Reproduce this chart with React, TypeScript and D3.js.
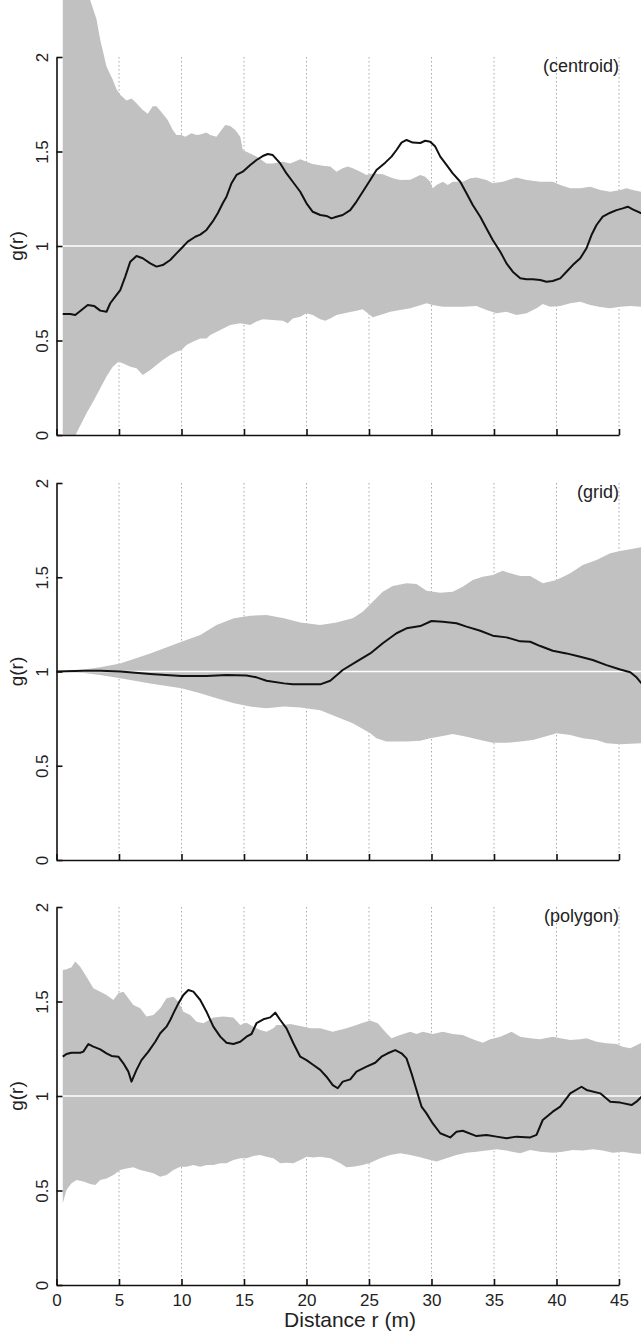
import React, { useRef, useEffect } from 'react';
import * as d3 from 'd3';

// [r (m), g(r)]
const centroidUpper = [
  [0.5, 2.9], [1.5, 2.6], [2.2, 2.42], [2.7, 2.3], [3.2, 2.2], [3.5, 2.09], [4.0, 1.95], [4.5, 1.88],
  [4.8, 1.83], [5.1, 1.8], [5.6, 1.77], [6.0, 1.78], [6.4, 1.755], [6.9, 1.72], [7.3, 1.7], [7.7, 1.74],
  [8.0, 1.74], [8.5, 1.7], [8.9, 1.667], [9.3, 1.614], [9.6, 1.587], [10.0, 1.587], [10.3, 1.578],
  [10.8, 1.596], [11.2, 1.587], [11.5, 1.59], [12.0, 1.6], [12.3, 1.587], [12.8, 1.578], [13.2, 1.614],
  [13.5, 1.64], [13.9, 1.635], [14.3, 1.614], [14.7, 1.578], [14.8, 1.543], [14.9, 1.508], [15.5, 1.49],
  [16.0, 1.473], [16.8, 1.437], [17.3, 1.437], [18.1, 1.446], [18.7, 1.437], [19.5, 1.459], [20.0, 1.446],
  [20.5, 1.434], [21.3, 1.425], [21.9, 1.42], [22.4, 1.393], [22.9, 1.411], [23.3, 1.42], [23.7, 1.411],
  [24.3, 1.393], [24.8, 1.376], [25.3, 1.384], [26.1, 1.38], [26.9, 1.358], [27.5, 1.349], [28.3, 1.35],
  [29.1, 1.376], [29.5, 1.367], [29.9, 1.34], [30.1, 1.305], [30.4, 1.323], [30.9, 1.34], [31.3, 1.323],
  [31.7, 1.34], [32.5, 1.34], [33.1, 1.358], [33.6, 1.363], [34.4, 1.349], [34.9, 1.332], [35.7, 1.34],
  [36.8, 1.363], [37.6, 1.349], [38.7, 1.34], [39.7, 1.34], [40.3, 1.323], [41.1, 1.305], [41.9, 1.305],
  [42.7, 1.314], [43.5, 1.296], [44.3, 1.287], [45.1, 1.296], [45.6, 1.305], [46.1, 1.296], [46.8, 1.287],
];
const centroidLower = [
  [0.5, -0.3], [1.0, -0.15], [1.6, 0.01], [2.4, 0.115], [3.0, 0.185], [3.5, 0.247], [4.0, 0.309],
  [4.5, 0.361], [4.95, 0.388], [5.3, 0.379], [5.9, 0.361], [6.4, 0.353], [6.9, 0.317], [7.5, 0.344],
  [8.0, 0.37], [8.5, 0.397], [9.1, 0.423], [9.6, 0.441], [10.0, 0.45], [10.4, 0.476], [10.9, 0.494],
  [11.5, 0.511], [12.0, 0.511], [12.3, 0.529], [13.1, 0.556], [13.9, 0.582], [14.7, 0.591], [15.5, 0.582],
  [16.0, 0.6], [16.5, 0.612], [17.3, 0.608], [18.1, 0.604], [18.5, 0.591], [18.9, 0.617], [19.5, 0.626],
  [20.0, 0.644], [20.5, 0.635], [21.1, 0.612], [21.5, 0.604], [21.9, 0.617], [22.4, 0.635], [23.2, 0.647],
  [24.0, 0.658], [24.5, 0.665], [24.9, 0.644], [25.3, 0.623], [25.9, 0.635], [26.7, 0.652], [27.5, 0.661],
  [28.3, 0.67], [29.1, 0.686], [29.6, 0.697], [30.1, 0.688], [30.9, 0.679], [31.7, 0.679], [32.5, 0.679],
  [33.6, 0.683], [34.4, 0.661], [35.2, 0.644], [36.0, 0.652], [36.8, 0.635], [37.6, 0.644], [38.4, 0.67],
  [38.9, 0.693], [39.5, 0.679], [40.3, 0.683], [41.1, 0.697], [41.9, 0.705], [42.7, 0.688], [43.5, 0.677],
  [44.3, 0.67], [45.1, 0.679], [45.9, 0.683], [46.8, 0.679],
];
const centroidObs = [
  [0.5, 0.64], [1.1, 0.64], [1.5, 0.635], [2.0, 0.661], [2.5, 0.688], [3.0, 0.683], [3.5, 0.658],
  [4.0, 0.652], [4.3, 0.697], [4.7, 0.732], [5.1, 0.767], [5.5, 0.838], [5.9, 0.917], [6.4, 0.947],
  [6.9, 0.935], [7.5, 0.908], [8.0, 0.891], [8.5, 0.899], [9.1, 0.926], [9.6, 0.961], [10.0, 0.988],
  [10.5, 1.023], [11.1, 1.049], [11.5, 1.06], [12.0, 1.085], [12.5, 1.13], [12.9, 1.173], [13.3, 1.226],
  [13.6, 1.261], [14.0, 1.332], [14.4, 1.376], [14.9, 1.393], [15.5, 1.429], [16.0, 1.455], [16.5, 1.476],
  [16.9, 1.487], [17.3, 1.481], [17.9, 1.437], [18.4, 1.384], [18.9, 1.34], [19.5, 1.287], [20.0, 1.226],
  [20.5, 1.181], [21.1, 1.164], [21.6, 1.159], [22.0, 1.146], [22.4, 1.155], [22.9, 1.164], [23.5, 1.19],
  [24.0, 1.235], [24.5, 1.287], [25.1, 1.349], [25.6, 1.402], [26.3, 1.441], [26.8, 1.473], [27.2, 1.508],
  [27.6, 1.547], [28.0, 1.561], [28.5, 1.547], [29.1, 1.545], [29.5, 1.557], [29.9, 1.552], [30.3, 1.526],
  [30.7, 1.473], [31.2, 1.429], [31.7, 1.384], [32.3, 1.34], [32.8, 1.279], [33.3, 1.217], [33.9, 1.155],
  [34.4, 1.093], [34.9, 1.032], [35.5, 0.97], [36.0, 0.908], [36.5, 0.864], [37.1, 0.829], [37.6, 0.824],
  [38.1, 0.824], [38.7, 0.82], [39.2, 0.811], [39.7, 0.815], [40.3, 0.829], [40.8, 0.864], [41.3, 0.899],
  [41.9, 0.935], [42.4, 0.988], [42.8, 1.058], [43.2, 1.111], [43.7, 1.155], [44.3, 1.176], [44.8, 1.19],
  [45.3, 1.199], [45.7, 1.208], [46.1, 1.194], [46.8, 1.173],
];

const gridUpper = [
  [0, 1.0], [2.2, 1.011], [3.5, 1.022], [5.1, 1.043], [7.5, 1.096], [10.0, 1.158], [11.5, 1.194],
  [12.8, 1.247], [14.2, 1.282], [15.5, 1.296], [16.8, 1.3], [18.2, 1.282], [19.5, 1.26], [21.1, 1.247],
  [22.4, 1.26], [23.7, 1.282], [24.5, 1.317], [25.3, 1.37], [26.1, 1.423], [26.9, 1.454], [28.0, 1.468],
  [28.8, 1.464], [29.6, 1.429], [30.7, 1.418], [31.7, 1.423], [32.5, 1.45], [33.3, 1.485], [34.1, 1.503],
  [34.9, 1.512], [35.7, 1.535], [36.3, 1.521], [37.1, 1.507], [37.9, 1.507], [38.9, 1.468], [40.0, 1.485],
  [41.1, 1.521], [42.1, 1.565], [43.2, 1.592], [44.3, 1.627], [45.1, 1.639], [45.9, 1.648], [46.8, 1.659],
];
const gridLower = [
  [0, 1.0], [2.2, 0.992], [3.5, 0.981], [5.1, 0.964], [7.5, 0.937], [10.0, 0.911], [11.5, 0.884],
  [12.8, 0.858], [14.2, 0.831], [15.5, 0.814], [16.8, 0.805], [18.2, 0.814], [19.5, 0.809], [21.1, 0.795],
  [22.4, 0.76], [23.7, 0.725], [25.1, 0.672], [25.6, 0.646], [26.4, 0.628], [28.0, 0.628], [29.1, 0.633],
  [29.9, 0.646], [30.9, 0.658], [31.7, 0.668], [32.8, 0.654], [33.9, 0.637], [34.9, 0.622], [36.0, 0.622],
  [37.1, 0.628], [38.1, 0.637], [38.9, 0.651], [40.0, 0.672], [41.1, 0.663], [42.1, 0.646], [43.2, 0.637],
  [44.0, 0.619], [45.1, 0.614], [46.8, 0.619],
];
const gridObs = [
  [0, 1.0], [2.2, 1.004], [3.5, 1.004], [5.1, 1.0], [7.5, 0.987], [10.0, 0.976], [12.0, 0.976],
  [13.6, 0.981], [15.2, 0.979], [16.0, 0.969], [16.8, 0.951], [18.2, 0.937], [18.9, 0.932], [21.1, 0.932],
  [21.9, 0.951], [22.9, 1.008], [24.0, 1.052], [25.1, 1.096], [26.1, 1.15], [27.2, 1.203], [28.0, 1.229],
  [29.1, 1.241], [30.0, 1.268], [30.9, 1.264], [32.0, 1.256], [32.8, 1.238], [33.9, 1.216], [34.9, 1.19],
  [36.0, 1.181], [37.1, 1.16], [37.9, 1.158], [38.7, 1.135], [39.7, 1.11], [40.8, 1.096], [41.9, 1.078],
  [42.9, 1.061], [44.0, 1.034], [45.1, 1.011], [45.9, 0.996], [46.4, 0.969], [46.8, 0.937],
];

const polygonUpper = [
  [0.5, 1.667], [0.8, 1.67], [1.2, 1.681], [1.5, 1.711], [1.9, 1.684], [2.4, 1.631], [2.95, 1.57],
  [3.5, 1.552], [4.0, 1.534], [4.55, 1.508], [4.95, 1.543], [5.35, 1.552], [5.75, 1.517], [6.15, 1.481],
  [6.7, 1.464], [7.2, 1.42], [7.75, 1.429], [8.3, 1.464], [8.8, 1.517], [9.35, 1.525], [9.75, 1.499],
  [10.15, 1.446], [10.7, 1.429], [11.2, 1.393], [11.75, 1.385], [12.55, 1.416], [13.35, 1.42], [14.15, 1.416],
  [14.7, 1.376], [15.2, 1.388], [15.75, 1.367], [16.3, 1.349], [16.8, 1.34], [17.35, 1.358], [17.6, 1.376],
  [18.15, 1.376], [18.7, 1.381], [19.5, 1.37], [20.3, 1.358], [21.1, 1.358], [22.1, 1.34], [23.2, 1.358],
  [24.0, 1.376], [24.5, 1.388], [25.1, 1.399], [25.7, 1.385], [26.4, 1.332], [26.8, 1.305], [27.5, 1.323],
  [28.3, 1.34], [28.8, 1.328], [29.3, 1.34], [30.1, 1.328], [30.9, 1.34], [31.7, 1.328], [32.5, 1.323],
  [33.3, 1.3], [34.1, 1.282], [34.7, 1.3], [35.5, 1.314], [36.4, 1.34], [37.1, 1.314], [37.9, 1.305],
  [38.7, 1.3], [39.7, 1.314], [40.3, 1.305], [41.1, 1.296], [41.9, 1.3], [42.4, 1.305], [43.2, 1.287],
  [44.0, 1.279], [44.8, 1.275], [45.3, 1.261], [45.9, 1.252], [46.8, 1.282],
];
const polygonLower = [
  [0.5, 0.432], [0.8, 0.503], [1.2, 0.538], [1.6, 0.556], [2.15, 0.547], [2.7, 0.534], [3.1, 0.529],
  [3.5, 0.556], [4.0, 0.564], [4.55, 0.582], [5.1, 0.608], [5.6, 0.617], [6.15, 0.623], [6.7, 0.608],
  [7.2, 0.6], [7.75, 0.591], [8.3, 0.573], [8.8, 0.582], [9.35, 0.608], [9.9, 0.626], [10.4, 0.626],
  [10.95, 0.635], [11.5, 0.626], [12.0, 0.635], [12.55, 0.635], [13.1, 0.644], [13.6, 0.644], [14.15, 0.661],
  [14.7, 0.67], [15.2, 0.67], [15.75, 0.683], [16.3, 0.688], [16.8, 0.679], [17.35, 0.67], [17.9, 0.644],
  [18.4, 0.647], [18.95, 0.644], [19.5, 0.661], [20.0, 0.679], [20.55, 0.675], [21.1, 0.679], [21.9, 0.67],
  [22.7, 0.644], [23.2, 0.623], [23.7, 0.626], [24.5, 0.635], [25.1, 0.647], [25.9, 0.67], [26.7, 0.688],
  [27.5, 0.697], [28.3, 0.688], [29.1, 0.676], [29.9, 0.661], [30.4, 0.653], [31.2, 0.67], [32.0, 0.688],
  [32.8, 0.7], [33.6, 0.705], [34.4, 0.711], [35.2, 0.718], [36.0, 0.711], [37.1, 0.697], [37.9, 0.714],
  [38.7, 0.705], [39.7, 0.7], [40.5, 0.705], [41.3, 0.714], [42.1, 0.711], [42.9, 0.718], [43.7, 0.711],
  [44.5, 0.7], [45.3, 0.705], [46.1, 0.697], [46.8, 0.693],
];
const polygonObs = [
  [0.5, 1.208], [0.8, 1.222], [1.2, 1.229], [1.9, 1.229], [2.15, 1.235], [2.55, 1.275], [2.95, 1.261],
  [3.5, 1.247], [4.0, 1.226], [4.4, 1.212], [4.95, 1.208], [5.35, 1.173], [5.75, 1.129], [6.0, 1.076],
  [6.4, 1.138], [6.8, 1.19], [7.35, 1.235], [7.9, 1.287], [8.3, 1.332], [8.8, 1.367], [9.1, 1.402],
  [9.35, 1.437], [9.75, 1.49], [10.15, 1.534], [10.55, 1.561], [10.95, 1.552], [11.5, 1.508], [12.0, 1.446],
  [12.55, 1.367], [13.1, 1.314], [13.6, 1.282], [14.15, 1.275], [14.7, 1.287], [15.2, 1.314], [15.6, 1.328],
  [16.0, 1.385], [16.55, 1.406], [17.1, 1.416], [17.5, 1.441], [17.9, 1.402], [18.4, 1.358], [18.95, 1.279],
  [19.5, 1.208], [20.0, 1.19], [20.55, 1.164], [21.1, 1.138], [21.6, 1.102], [22.1, 1.058], [22.5, 1.041],
  [22.9, 1.076], [23.5, 1.088], [24.0, 1.129], [24.8, 1.155], [25.5, 1.176], [26.0, 1.208], [26.5, 1.226],
  [27.1, 1.243], [27.6, 1.226], [28.0, 1.199], [28.4, 1.12], [28.8, 1.032], [29.2, 0.944], [29.6, 0.908],
  [30.1, 0.855], [30.7, 0.803], [31.5, 0.781], [32.0, 0.811], [32.5, 0.816], [33.6, 0.788], [34.4, 0.794],
  [35.2, 0.785], [36.0, 0.776], [36.8, 0.785], [37.9, 0.781], [38.4, 0.794], [38.9, 0.873], [39.7, 0.917],
  [40.3, 0.944], [41.1, 1.014], [42.0, 1.049], [42.4, 1.032], [43.5, 1.014], [44.3, 0.97], [45.1, 0.965],
  [46.0, 0.952], [46.4, 0.97], [46.8, 0.996],
];

const xTicks = [0, 5, 10, 15, 20, 25, 30, 35, 40, 45];
const gridTicks = [5, 10, 15, 20, 25, 30, 35, 40, 45];
const yTicks = [0, 0.5, 1, 1.5, 2];
const panelLabels = ['(centroid)', '(grid)', '(polygon)'];

const W = 641;
const H = 1334;
const FONT = '"Liberation Sans", Arial, Helvetica, sans-serif';

const panels = [
  { label: panelLabels[0], upper: centroidUpper, lower: centroidLower, obs: centroidObs, bottom: 435, top: 57, showX: false },
  { label: panelLabels[1], upper: gridUpper, lower: gridLower, obs: gridObs, bottom: 860, top: 483, showX: false },
  { label: panelLabels[2], upper: polygonUpper, lower: polygonLower, obs: polygonObs, bottom: 1285, top: 907, showX: true },
];

function App() {
  const ref = useRef(null);

  useEffect(() => {
    const svg = d3.select(ref.current);
    svg.selectAll('*').remove();

    const x = d3.scaleLinear().domain([0, 45]).range([56.5, 619]);
    const defs = svg.append('defs');

    panels.forEach((p, i) => {
      const y = d3.scaleLinear().domain([0, 2]).range([p.bottom, p.top]);
      const g = svg.append('g');
      const clipTop = i === 0 ? 0 : y(2.4);

      defs.append('clipPath').attr('id', `clip${i}`)
        .append('rect')
        .attr('x', x(0)).attr('y', clipTop)
        .attr('width', W - x(0)).attr('height', y(0) - clipTop);

      // dotted verticals
      g.selectAll('line.vgrid').data(gridTicks).join('line')
        .attr('class', 'vgrid')
        .attr('x1', d => x(d)).attr('x2', d => x(d))
        .attr('y1', y(2)).attr('y2', y(0))
        .attr('stroke', '#a8a8a8').attr('stroke-width', 1)
        .attr('stroke-dasharray', '1.5,2.5');

      const line = d3.line().x(d => x(d[0])).y(d => y(d[1]));

      // simulation envelope
      const ring = [...p.upper, ...p.lower.slice().reverse()];
      g.append('path')
        .attr('d', line(ring) + 'Z')
        .attr('fill', '#c1c1c1')
        .attr('clip-path', `url(#clip${i})`);

      // g(r) = 1 reference
      g.append('line')
        .attr('x1', x(0)).attr('x2', W)
        .attr('y1', y(1)).attr('y2', y(1))
        .attr('stroke', '#fff').attr('stroke-width', 1.5);

      // observed g(r)
      g.append('path')
        .datum(p.obs)
        .attr('d', line)
        .attr('fill', 'none')
        .attr('stroke', '#111')
        .attr('stroke-width', 2)
        .attr('stroke-linejoin', 'round')
        .attr('clip-path', `url(#clip${i})`);

      // x axis
      const xAxis = d3.axisBottom(x)
        .tickValues(xTicks)
        .tickSizeInner(-6).tickSizeOuter(0).tickPadding(9)
        .tickFormat(p.showX ? d => String(d) : () => '');
      const gx = g.append('g').attr('transform', `translate(0,${y(0)})`).call(xAxis);
      gx.attr('font-family', FONT).attr('font-size', 17);
      gx.select('.domain').attr('stroke', '#111').attr('stroke-width', 1.6);
      gx.selectAll('.tick line').attr('stroke', '#111').attr('stroke-width', 1.6);
      gx.selectAll('.tick text').attr('fill', '#222');

      // y axis, labels turned up the axis
      const yAxis = d3.axisLeft(y)
        .tickValues(yTicks)
        .tickSizeInner(-6).tickSizeOuter(0)
        .tickFormat(d => String(d));
      const gy = g.append('g').attr('transform', `translate(${x(0)},0)`).call(yAxis);
      gy.attr('font-family', FONT).attr('font-size', 17);
      gy.select('.domain').attr('stroke', '#111').attr('stroke-width', 1.6);
      gy.selectAll('.tick line').attr('stroke', '#111').attr('stroke-width', 1.6);
      gy.selectAll('.tick text')
        .attr('x', null).attr('dy', null)
        .attr('text-anchor', 'middle')
        .attr('fill', '#222')
        .attr('transform', 'translate(-8.5,0) rotate(-90)');

      g.append('text')
        .attr('transform', `translate(23,${y(1)}) rotate(-90)`)
        .attr('text-anchor', 'middle')
        .attr('font-family', FONT).attr('font-size', 19)
        .attr('fill', '#222')
        .text('g(r)');

      g.append('text')
        .attr('x', x(45)).attr('y', y(2) + 15)
        .attr('text-anchor', 'end')
        .attr('font-family', FONT).attr('font-size', 18)
        .attr('fill', '#222')
        .text(p.label);
    });

    svg.append('text')
      .attr('x', 350).attr('y', 1327)
      .attr('text-anchor', 'middle')
      .attr('font-family', FONT).attr('font-size', 21)
      .attr('fill', '#222')
      .text('Distance r (m)');
  }, []);

  return (
    <div style={{ position: 'absolute', left: 0, top: 0, width: W, height: H, background: '#fff' }}>
      <svg ref={ref} width={W} height={H} style={{ display: 'block' }}></svg>
    </div>
  );
}

export default App;
